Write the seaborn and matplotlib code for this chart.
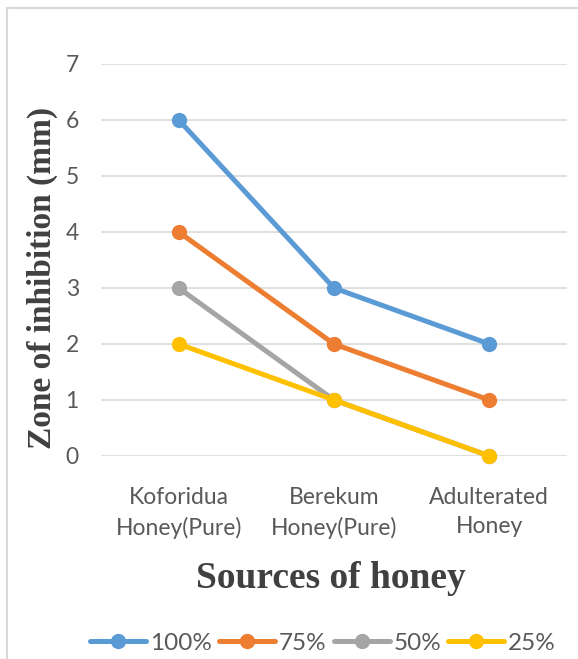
import matplotlib
matplotlib.use("Agg")
import matplotlib.pyplot as plt
from matplotlib.patches import Rectangle
import seaborn as sns
import pandas as pd

categories = ["Koforidua\nHoney(Pure)", "Berekum\nHoney(Pure)", "Adulterated\nHoney"]
series_names = ["100%", "75%", "50%", "25%"]
values_100 = [6, 3, 2]
values_75 = [4, 2, 1]
values_50 = [3, 1, 0]
values_25 = [2, 1, 0]
y_ticks = [0, 1, 2, 3, 4, 5, 6, 7]
colors = ["#5B9BD5", "#ED7D31", "#A5A5A5", "#FFC000"]

rows = []
for name, vals in zip(series_names, [values_100, values_75, values_50, values_25]):
    for i, (c, v) in enumerate(zip(categories, vals)):
        rows.append({"Source": c, "pos": i, "Concentration": name, "Zone": v})
df = pd.DataFrame(rows)

sns.set_theme(style="white")
plt.rcParams["font.family"] = ["Lato", "DejaVu Sans"]

fig = plt.figure(figsize=(5.78, 6.59), dpi=100)
ax = fig.add_axes([101/578, 1-456/659, 466/578, 392/659])

sns.lineplot(data=df, x="pos", y="Zone", hue="Concentration", hue_order=series_names,
             palette=colors, marker="o", markersize=11, markeredgewidth=0,
             linewidth=3.6, ax=ax, clip_on=False, legend=True, zorder=3)

ax.set_xlim(-0.5, 2.5)
ax.set_ylim(0, 7)
ax.set_xticks(range(len(categories)))
ax.set_xticklabels(categories)
ax.set_yticks(y_ticks)
ax.set_yticklabels([str(t) for t in y_ticks])
ax.tick_params(axis="both", length=0, labelsize=16.5, colors="#595959")
ax.tick_params(axis="x", pad=22)
ax.tick_params(axis="y", pad=16)
for lab in ax.get_xticklabels():
    lab.set_linespacing(1.5)
ax.grid(axis="y", color="#D9D9D9", linewidth=1.2)
ax.set_axisbelow(True)
for s in ax.spines.values():
    s.set_visible(False)
ax.set_xlabel("")
ax.set_ylabel("")

fig.text(42/578, 1-278/659, "Zone of inhibition (mm)", rotation=90, ha="center", va="center",
         family="Liberation Serif", fontweight="bold", fontsize=24, color="#404040")
fig.text(331/578, 1-578/659, "Sources of honey", ha="center", va="center",
         family="Liberation Serif", fontweight="bold", fontsize=27, color="#404040")

handles, labels = ax.get_legend_handles_labels()
ax.legend(handles, labels, loc="center", bbox_to_anchor=(323/578, 1-643/659),
          bbox_transform=fig.transFigure, ncol=4, frameon=False, fontsize=17.5,
          handlelength=2.3, handletextpad=0.15, columnspacing=0.3, labelcolor="#595959",
          borderpad=0, borderaxespad=0)

fig.patches.append(Rectangle((7/578, -0.05), 1.2, (1-8/659)+0.05, transform=fig.transFigure,
                             fill=False, edgecolor="#D9D9D9", linewidth=1.5))

fig.savefig("out.png", dpi=100)
